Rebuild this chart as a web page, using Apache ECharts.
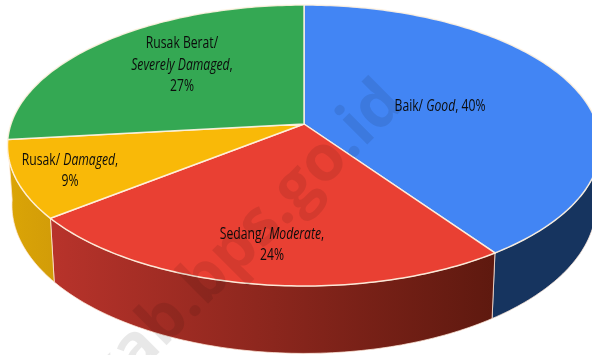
<!DOCTYPE html>
<html>
<head>
<meta charset="utf-8">
<style>html,body{margin:0;padding:0;background:#fff}#chart{width:592px;height:355px}</style>
<script src="https://cdn.jsdelivr.net/npm/echarts@6/dist/echarts.min.js"></script>
</head>
<body>
<div id="chart"></div>
<script>
// Road condition shares, clockwise from twelve o'clock
const conditionId = ['Baik', 'Sedang', 'Rusak', 'Rusak Berat'];
const conditionEn = ['Good', 'Moderate', 'Damaged', 'Severely Damaged'];
const shares = [40, 24, 9, 27];

const topColors = ['#4285f4', '#e94033', '#f9b908', '#34a853'];
// Rim wall colours, left to right
const sideColors = [
  ['#16345f', '#16345f'],
  ['#b8332b', '#5e190f'],
  ['#dba506', '#d29c08'],
  ['#1f6532', '#1f6532']
];

// Camera model of the tilted disc
const disc = { cx: 304, cy: 124, rx: 293, ry: 137.2, tilt: 0.153, drop: 58.5, stretch: 0.055, taper: 0.985, roll: 1.4, wallFrom: 90, wallTo: 262.5 };
const font = '"Open Sans", "Noto Sans", sans-serif';

// Text block centres, relative to the disc centre
const labelOffset = [[136, -18], [-32, 121], [-234, 47], [-122, -59]];

const total = shares.reduce((a, b) => a + b, 0);

function topPoint(deg) {
  const half = Math.sin(deg * Math.PI / 360);
  const a = (deg + disc.roll * half * half) * Math.PI / 180;
  const X = Math.sin(a), Y = Math.cos(a), w = 1 + disc.tilt * Y;
  return [disc.cx + disc.rx * X / w, disc.cy - disc.ry * Y / w];
}
function basePoint(deg) {
  const p = topPoint(deg);
  return [disc.cx + (p[0] - disc.cx) * disc.taper, p[1] + disc.drop + disc.stretch * (p[1] - disc.cy)];
}
function arc(from, to, fn) {
  const pts = [];
  const n = Math.max(2, Math.ceil(Math.abs(to - from)));
  for (let i = 0; i <= n; i++) pts.push(fn(from + (to - from) * i / n));
  return pts;
}

function renderSlice(params, api) {
  const i = params.dataIndex;
  const before = shares.slice(0, i).reduce((a, b) => a + b, 0);
  const start = echarts.number.linearMap(before, [0, total], [0, 360]);
  const end = start + echarts.number.linearMap(api.value(0), [0, total], [0, 360]);
  const children = [];

  // Rim wall, only on the part of the circle that faces the viewer
  const s = Math.max(start, disc.wallFrom), e = Math.min(end, disc.wallTo);
  if (e > s) {
    const wall = arc(s, e, topPoint).concat(arc(s, e, basePoint).reverse());
    children.push({
      type: 'polygon',
      z2: 1,
      shape: { points: wall },
      style: {
        fill: new echarts.graphic.LinearGradient(0, 0, 1, 0, [
          { offset: 0, color: sideColors[i][0] },
          { offset: 1, color: sideColors[i][1] }
        ]),
        stroke: 'rgba(255,232,218,0.75)',
        lineWidth: 1
      }
    });
  }

  // Upper face
  children.push({
    type: 'polygon',
    z2: 2,
    shape: { points: [[disc.cx, disc.cy]].concat(arc(start, end, topPoint)) },
    style: { fill: topColors[i], stroke: 'rgba(255,243,225,0.9)', lineWidth: 1.5, lineJoin: 'round' }
  });

  // Label
  const head = i === 3 ? '{r|' + conditionId[i] + '/}\n{i|' + conditionEn[i] + '}{r|,}\n'
    : '{r|' + conditionId[i] + '/ }{i|' + conditionEn[i] + '}{r|,}' + (i === 0 ? '{r| }' : '\n');
  children.push({
    type: 'text',
    z2: 5,
    x: disc.cx + labelOffset[i][0],
    y: disc.cy + labelOffset[i][1],
    scaleX: 0.76,
    style: {
      text: head + '{r|' + shares[i] + '%}',
      align: 'center',
      verticalAlign: 'middle',
      rich: {
        r: { fontFamily: font, fontSize: 16, lineHeight: 21.5, fill: '#0c0c0c' },
        i: { fontFamily: font, fontSize: 16, lineHeight: 21.5, fontStyle: 'italic', fill: '#0c0c0c' }
      }
    }
  });
  return { type: 'group', children };
}

const chart = echarts.init(document.getElementById('chart'), null, { renderer: 'canvas' });
chart.setOption({
  animation: false,
  backgroundColor: '#ffffff',
  graphic: [{
    type: 'text',
    z: 20,
    x: 244,
    y: 242,
    rotation: Math.PI / 4,
    style: {
      text: 'kab.bps.go.id',
      align: 'center',
      verticalAlign: 'middle',
      font: 'bold 64px "Open Sans", sans-serif',
      fill: 'rgba(0,0,0,0.09)'
    }
  }],
  series: [{
    type: 'custom',
    coordinateSystem: 'none',
    renderItem: renderSlice,
    data: shares.map(v => [v])
  }]
});
</script>
</body>
</html>
